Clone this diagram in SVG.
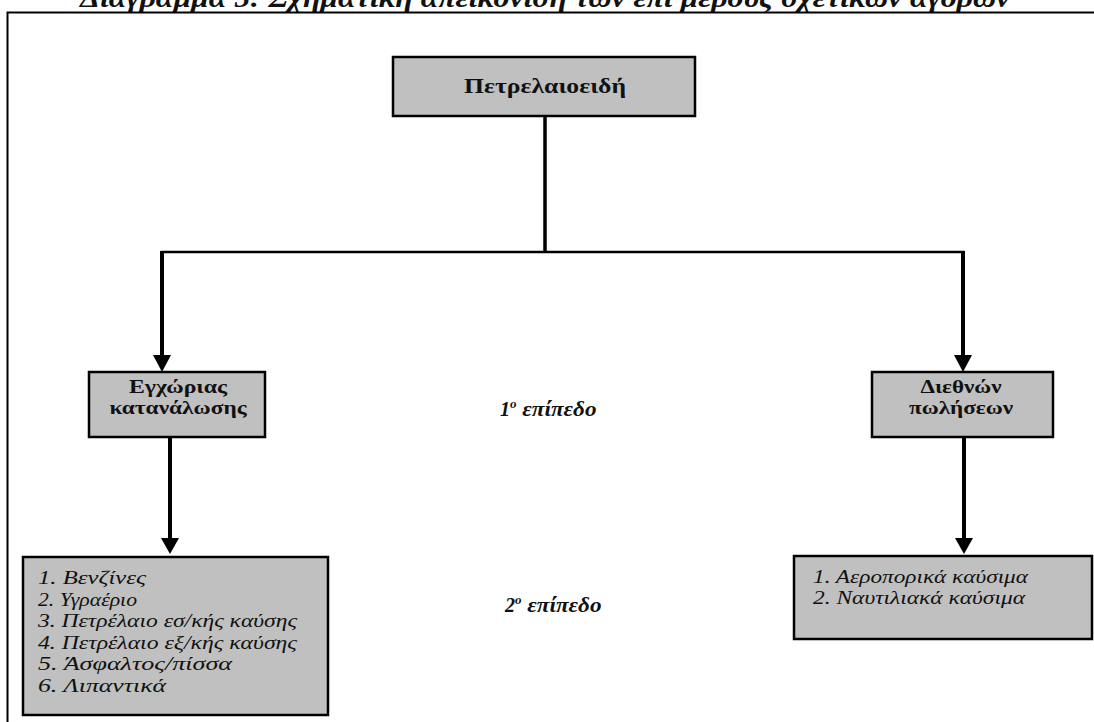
<svg xmlns="http://www.w3.org/2000/svg" width="1094" height="722" viewBox="0 0 1094 722">
<style>
.box{fill:#c0c0c0;stroke:#000;stroke-width:2.5}
.bt{font-family:"Liberation Serif","Times New Roman",serif;font-weight:bold;font-size:19px;fill:#111;text-anchor:middle}
.it{font-family:"Liberation Serif","Times New Roman",serif;font-style:italic;font-size:19px;fill:#111}
.lv{font-family:"Liberation Serif","Times New Roman",serif;font-style:italic;font-weight:bold;font-size:20px;fill:#111}
.ln{stroke:#000;fill:none}
</style>
<rect width="1094" height="722" fill="#fff"/>
<text x="80" y="7" class="lv" style="font-size:28px" textLength="930" lengthAdjust="spacingAndGlyphs">Διάγραμμα 5: Σχηματική απεικόνιση των επί μέρους σχετικών αγορών</text>
<path d="M7.5,722 L7.5,12.5 L1094,12.5" class="ln" stroke-width="2"/>
<g id="connectors">
<line x1="545" y1="116" x2="545" y2="252" class="ln" stroke-width="3.5"/>
<line x1="161" y1="252" x2="964" y2="252" class="ln" stroke-width="2.5"/>
<line x1="162" y1="251" x2="162" y2="357" class="ln" stroke-width="4"/>
<path d="M153,355 L171,355 L162,372 Z" fill="#000"/>
<line x1="963" y1="251" x2="963" y2="357" class="ln" stroke-width="4"/>
<path d="M954,355 L972,355 L963,372 Z" fill="#000"/>
<line x1="170" y1="437" x2="170" y2="540" class="ln" stroke-width="4"/>
<path d="M161,538 L179,538 L170,554 Z" fill="#000"/>
<line x1="964" y1="437" x2="964" y2="540" class="ln" stroke-width="4"/>
<path d="M955,538 L973,538 L964,554 Z" fill="#000"/>
</g>
<g id="node-root">
<rect x="393" y="57" width="302" height="59" class="box" stroke-width="3"/>
<text x="545" y="93" class="bt" style="font-size:20px" textLength="162" lengthAdjust="spacingAndGlyphs">Πετρελαιοειδή</text>
</g>
<g id="node-local">
<rect x="89" y="372" width="176" height="65" class="box"/>
<text x="178" y="393" class="bt" textLength="98" lengthAdjust="spacingAndGlyphs">Εγχώριας</text>
<text x="178" y="414" class="bt" textLength="137" lengthAdjust="spacingAndGlyphs">κατανάλωσης</text>
</g>
<g id="node-intl">
<rect x="872" y="372" width="181" height="65" class="box"/>
<text x="961" y="393" class="bt" textLength="81" lengthAdjust="spacingAndGlyphs">Διεθνών</text>
<text x="961" y="414" class="bt" textLength="104" lengthAdjust="spacingAndGlyphs">πωλήσεων</text>
</g>
<g id="label-level1">
<text x="500" y="416" class="lv">1<tspan dy="-8" font-size="13">ο</tspan><tspan dy="8" textLength="80" lengthAdjust="spacingAndGlyphs"> επίπεδο</tspan></text>
</g>
<g id="node-local-list">
<rect x="23" y="557" width="305" height="158" class="box"/>
<text class="it" x="38" y="584" textLength="108" lengthAdjust="spacingAndGlyphs">1. Βενζίνες</text>
<text class="it" x="38" y="606" textLength="99" lengthAdjust="spacingAndGlyphs">2. Υγραέριο</text>
<text class="it" x="38" y="627" textLength="259" lengthAdjust="spacingAndGlyphs">3. Πετρέλαιο εσ/κής καύσης</text>
<text class="it" x="38" y="649" textLength="259" lengthAdjust="spacingAndGlyphs">4. Πετρέλαιο εξ/κής καύσης</text>
<text class="it" x="38" y="670" textLength="194" lengthAdjust="spacingAndGlyphs">5. Άσφαλτος/πίσσα</text>
<text class="it" x="38" y="692" textLength="128" lengthAdjust="spacingAndGlyphs">6. Λιπαντικά</text>
</g>
<g id="label-level2">
<text x="505" y="612" class="lv">2<tspan dy="-8" font-size="13">ο</tspan><tspan dy="8" textLength="80" lengthAdjust="spacingAndGlyphs"> επίπεδο</tspan></text>
</g>
<g id="node-intl-list">
<rect x="794" y="556" width="298" height="83" class="box"/>
<text class="it" x="813" y="583" textLength="215" lengthAdjust="spacingAndGlyphs">1. Αεροπορικά καύσιμα</text>
<text class="it" x="813" y="604" textLength="212" lengthAdjust="spacingAndGlyphs">2. Ναυτιλιακά καύσιμα</text>
</g>
</svg>
